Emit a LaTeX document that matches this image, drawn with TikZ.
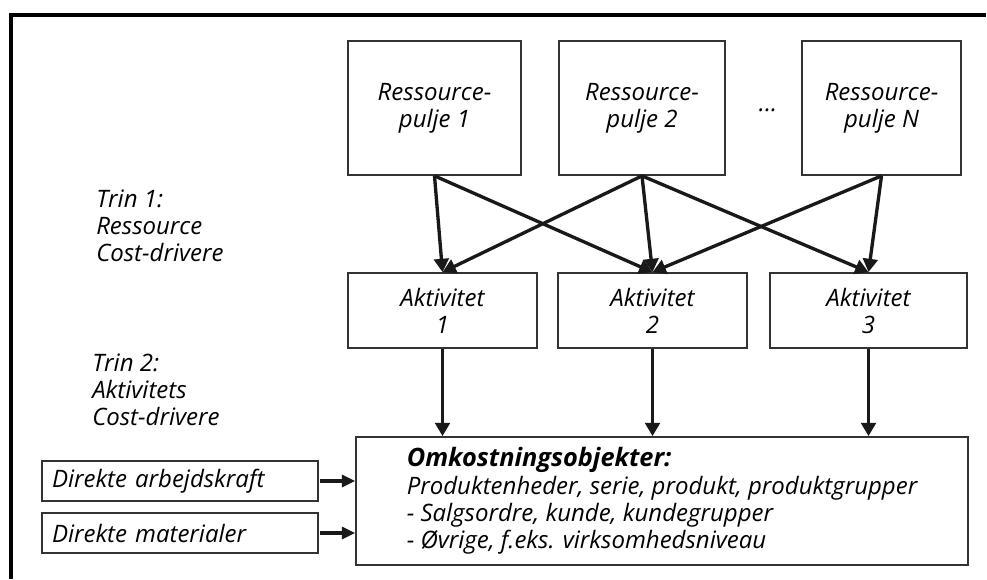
\documentclass[tikz,border=0pt]{standalone}
\usepackage{fontspec}
\setmainfont{Open Sans}
\usetikzlibrary{arrows.meta}
\begin{document}
\begin{tikzpicture}[x=0.75pt,y=-0.75pt,
  every node/.style={font=\itshape\fontsize{18}{20.25}\selectfont, inner sep=0pt},
  box/.style={draw=black!80, line width=1.3pt, align=center},
  arr/.style={draw=black!90, line width=2.5pt, -{Triangle[length=10pt,width=11pt]}},
  sarr/.style={draw=black!90, line width=2.4pt, -{Triangle[length=10pt,width=9pt]}},
  lbl/.style={align=left, anchor=west}]
\useasboundingbox (0,0) rectangle (987,579);
% frame
\draw[line width=2.3pt] (11,579) -- (11,15) -- (986,15);
% resource pools
\node[box, minimum width=173*0.75pt, minimum height=134*0.75pt] (r1) at (434.5,108) {Ressource-\\pulje 1};
\node[box, minimum width=166*0.75pt, minimum height=134*0.75pt] (r2) at (642,108) {Ressource-\\pulje 2};
\node[box, minimum width=159*0.75pt, minimum height=134*0.75pt] (rn) at (881.5,108) {Ressource-\\pulje N};
\node[anchor=base] (dots) at (768,111) {...};
% activities
\node[box, minimum width=189*0.75pt, minimum height=75*0.75pt] (a1) at (442.5,310.5) {Aktivitet\\1};
\node[box, minimum width=189*0.75pt, minimum height=75*0.75pt] (a2) at (652.5,310.5) {Aktivitet\\2};
\node[box, minimum width=197*0.75pt, minimum height=75*0.75pt] (a3) at (868.5,310.5) {Aktivitet\\3};
% cost objects
\node[box, align=left, minimum width=612*0.75pt, minimum height=128*0.75pt] (omk) at (662,501)
  {{\bfseries\fontsize{19}{22}\selectfont Omkostningsobjekter:}\\[1pt]
   Produktenheder, serie, produkt, produktgrupper\\
   - Salgsordre, kunde, kundegrupper\\
   - Øvrige, f.eks. virksomhedsniveau};
% direct costs
\node[box, minimum width=276*0.75pt, minimum height=40*0.75pt, text width=256*0.75pt, align=left] (d1) at (180,481) {Direkte arbejdskraft};
\node[box, minimum width=276*0.75pt, minimum height=40*0.75pt, text width=256*0.75pt, align=left] (d2) at (180,533) {Direkte materialer};
% step labels
\node[lbl] (t1) at (96,226) {Trin 1:\\Ressource\\Cost-drivere};
\node[lbl] (t2) at (92,390) {Trin 2:\\Aktivitets\\Cost-drivere};
% arrows step 1
\draw[arr] (r1.south) -- (a1.north);
\draw[arr] (r1.south) -- (a2.north);
\draw[arr] (r2.south) -- (a1.north);
\draw[arr] (r2.south) -- (a2.north);
\draw[arr] (r2.south) -- (a3.north);
\draw[arr] (rn.south) -- (a2.north);
\draw[arr] (rn.south) -- (a3.north);
% arrows step 2
\draw[arr] (a1.south) -- (a1.south |- omk.north);
\draw[arr] (a2.south) -- (a2.south |- omk.north);
\draw[arr] (a3.south) -- (a3.south |- omk.north);
% direct arrows
\draw[sarr] ([xshift=1pt]d1.east) -- (d1.east -| omk.west);
\draw[sarr] ([xshift=1pt]d2.east) -- (d2.east -| omk.west);
\end{tikzpicture}
\end{document}
